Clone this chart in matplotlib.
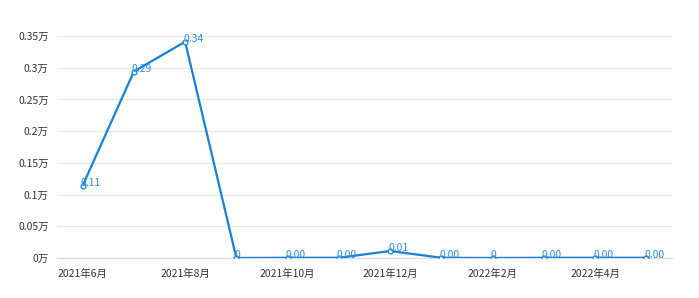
import matplotlib
matplotlib.use('Agg')
import matplotlib.pyplot as plt

plt.rcParams['font.family'] = ['Noto Sans CJK SC', 'DejaVu Sans']

# === Data
months = ['2021年6月', '2021年7月', '2021年8月', '2021年9月', '2021年10月', '2021年11月',
          '2021年12月', '2022年1月', '2022年2月', '2022年3月', '2022年4月', '2022年5月']
values = [0.114, 0.294, 0.341, 0, 0.0004, 0.0004, 0.011, 0.0004, 0, 0.0004, 0.0004, 0.0004]
value_labels = ['0.11', '0.29', '0.34', '0', '0.00', '0.00', '0.01', '0.00', '0', '0.00', '0.00', '0.00']
y_ticks = [0, 0.05, 0.1, 0.15, 0.2, 0.25, 0.3, 0.35]
y_ticklabels = ['0万', '0.05万', '0.1万', '0.15万', '0.2万', '0.25万', '0.3万', '0.35万']

line_color = '#1a7fd6'
label_color = '#2a8de0'
text_color = '#333333'

fig = plt.figure(figsize=(6.99, 2.98), dpi=100)
ax = fig.add_axes([57 / 699, 1 - 258 / 298, (672 - 57) / 699, (258 - 36) / 298])

x = list(range(len(months)))
ax.plot(x, values, color=line_color, lw=1.6, zorder=3,
        marker='o', ms=3.5, mfc='white', mec=line_color, mew=0.9)

for xi, yi, lab in zip(x, values, value_labels):
    ax.annotate(lab, (xi, yi), xytext=(-1.5, 2), textcoords='offset points',
                ha='left', va='center', fontsize=7.5, color=label_color, zorder=4)

ax.set_xlim(-0.5, len(months) - 0.5)
ax.set_ylim(0, 0.35)
ax.set_xticks(x[::2])
ax.set_xticklabels(months[::2], fontsize=7.5, color=text_color)
ax.set_yticks(y_ticks)
ax.set_yticklabels(y_ticklabels, fontsize=7.5, color=text_color)
ax.tick_params(axis='x', length=0, pad=8)
ax.tick_params(axis='y', length=0, pad=6)

ax.grid(axis='y', color='#e8e8e8', lw=0.9)
ax.set_axisbelow(True)
for side in ['top', 'right', 'left']:
    ax.spines[side].set_visible(False)
ax.spines['bottom'].set_color('#dddddd')
ax.spines['bottom'].set_linewidth(0.9)

plt.savefig('out.png', dpi=100)
plt.close()
